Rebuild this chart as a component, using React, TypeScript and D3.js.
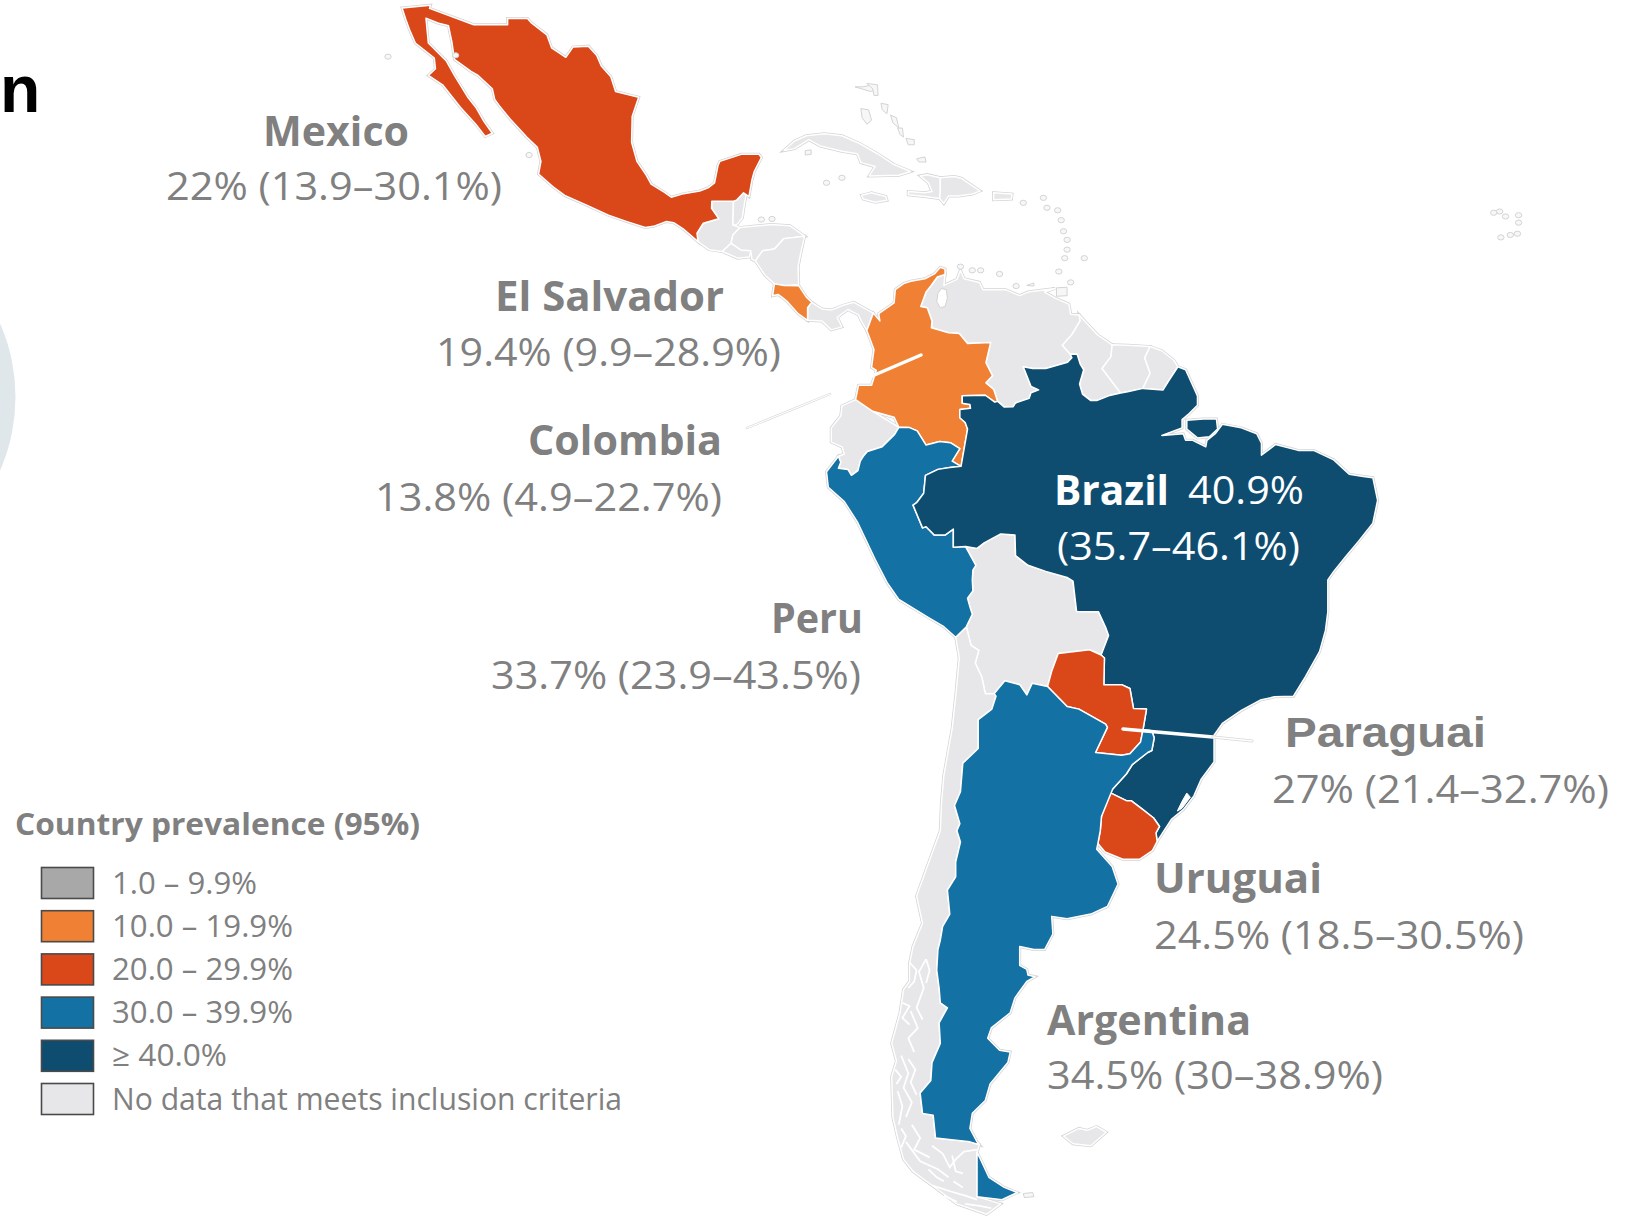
import React, { useMemo } from 'react';
import * as d3 from 'd3';

type LonLat = [number, number];

// ---- values ----
const labelNames = ['Mexico', 'El Salvador', 'Colombia', 'Peru', 'Paraguai', 'Uruguai', 'Argentina'];
const labelRanges = ['22% (13.9–30.1%)', '19.4% (9.9–28.9%)', '13.8% (4.9–22.7%)', '33.7% (23.9–43.5%)', '27% (21.4–32.7%)', '24.5% (18.5–30.5%)', '34.5% (30–38.9%)'];

const legendTitle = 'Country prevalence (95%)';
const legendLabels = ['1.0 – 9.9%', '10.0 – 19.9%', '20.0 – 29.9%', '30.0 – 39.9%', '≥ 40.0%', 'No data that meets inclusion criteria'];
const legendColors = ['#a8a8a8', '#f08033', '#da481a', '#1471a3', '#0e4d70', '#e7e6e8'];
const legendWidths = [145, 181, 181, 181, 115, 510];

// prevalence per shape, the orange shape in Central America carries the El Salvador figure in the source
const prevalence: Record<string, number> = {
  mexico: 22, costaRica: 19.4, colombia: 13.8, peru: 33.7, brazil: 40.9, paraguay: 27, uruguay: 24.5, argentina: 34.5,
};

// shared borders, lon/lat
const colVen: LonLat[] = [[-71.3, 11.85], [-71.95, 11.65], [-72.5, 10.9], [-72.9, 10.4], [-73.35, 9.2], [-72.8, 9.1], [-72.4, 8], [-72.45, 7.42], [-71, 7], [-70.1, 6.95], [-69.4, 6.1], [-67.45, 6.2], [-67.85, 4.5], [-67.3, 3.4], [-67.85, 2.8], [-67.2, 2.25], [-66.87, 1.25]];
const colBra: LonLat[] = [[-66.87, 1.25], [-67.1, 1.17], [-67.9, 1.75], [-69.85, 1.7], [-69.85, 1.07], [-69.2, 0.98], [-69.15, 0.65], [-70.05, 0.55], [-70.05, -0.15], [-69.6, -0.55], [-69.4, -1.1], [-69.95, -4.24]];
const colPer: LonLat[] = [[-69.95, -4.24], [-70.7, -3.8], [-70.05, -2.75], [-70.85, -2.25], [-71.75, -2.15], [-72.9, -2.45], [-73.65, -1.26], [-74.3, -0.98], [-75.2, -0.95]];
const colEcu: LonLat[] = [[-75.2, -0.95], [-75.6, -0.1], [-77.4, 0.4], [-78.85, 1.38]];
const venBra: LonLat[] = [[-66.87, 1.25], [-66.3, 0.75], [-65.55, 0.79], [-65.35, 1.1], [-64.2, 1.49], [-64.05, 1.95], [-63.4, 2.2], [-64.05, 2.5], [-64.7, 4.15], [-63.9, 4], [-62.8, 4], [-60.96, 4.53], [-60.6, 4.92], [-60.73, 5.2]];
const guyBra: LonLat[] = [[-60.73, 5.2], [-60.15, 5.2], [-59.9, 4.4], [-59.6, 3.9], [-59.95, 2.7], [-59.7, 1.85], [-59, 1.3], [-58.5, 1.3], [-57.5, 1.7], [-56.48, 1.94]];
const surBra: LonLat[] = [[-56.48, 1.94], [-55.9, 2.05], [-54.6, 2.33]];
const fguBra: LonLat[] = [[-54.6, 2.33], [-52.9, 2.2], [-52.4, 3], [-51.65, 4.15]];
const braUry: LonLat[] = [[-57.6, -30.18], [-56, -30.85], [-55.6, -30.85], [-54.6, -31.5], [-53.7, -32.1], [-53.2, -32.7], [-53.5, -33.15], [-53.4, -33.75]];
const braArg: LonLat[] = [[-57.6, -30.18], [-57.15, -30], [-56, -28.9], [-55.5, -28.2], [-54.2, -27.3], [-53.85, -27.15], [-53.65, -26.2], [-53.85, -25.65], [-54.6, -25.6]];
const braPry: LonLat[] = [[-54.6, -25.6], [-54.3, -24], [-55.4, -23.95], [-55.7, -22.4], [-56.4, -22.1], [-57.9, -22.1], [-57.85, -20], [-58.13, -19.76]];
const braBol: LonLat[] = [[-58.13, -19.76], [-57.5, -18.2], [-57.75, -17.55], [-58.35, -16.3], [-60.2, -16.27], [-60.5, -13.8], [-61, -13.5], [-62.8, -13], [-64.3, -12.5], [-65.35, -11.7], [-65.4, -10], [-66.6, -9.9], [-68, -10.65], [-68.6, -11.1], [-69.57, -10.95]];
const braPer: LonLat[] = [[-69.57, -10.95], [-70.6, -11], [-70.6, -9.5], [-71.3, -10], [-72.2, -10], [-72.9, -9.3], [-73.2, -9.4], [-74, -7.5], [-73.7, -7.3], [-73.1, -6.5], [-72.95, -5], [-71.9, -4.5], [-70.9, -4.35], [-69.95, -4.24]];
const perBol: LonLat[] = [[-69.57, -10.95], [-68.7, -12.5], [-68.95, -12.9], [-69, -13.7], [-68.95, -14.6], [-69.4, -15.2], [-69.2, -15.9], [-69, -16.5], [-69.5, -17.5]];
const perEcu: LonLat[] = [[-75.2, -0.95], [-75.55, -1.55], [-76.6, -2.6], [-77.85, -3], [-78.2, -3.4], [-78.45, -3.8], [-78.65, -4.6], [-79.2, -5], [-79.5, -4.5], [-80.3, -4.4], [-80.1, -3.9], [-80.3, -3.4]];
const bolChl: LonLat[] = [[-69.5, -17.5], [-69.1, -19], [-68.45, -19.4], [-68.75, -20.4], [-68.5, -20.9], [-68.2, -21.5], [-67.9, -22.8], [-67.15, -22.8]];
const bolArg: LonLat[] = [[-67.15, -22.8], [-66.25, -21.8], [-65, -22.1], [-64.4, -22.9], [-63.95, -22], [-62.65, -22.25]];
const bolPry: LonLat[] = [[-62.65, -22.25], [-62.3, -21.05], [-61.75, -19.65], [-59.1, -19.35], [-58.13, -19.76]];
const argPry: LonLat[] = [[-62.65, -22.25], [-61, -23.8], [-60, -24], [-57.75, -25.15], [-57.6, -25.4], [-58.6, -27.3], [-56.4, -27.5], [-55.7, -27.4], [-54.8, -26.5], [-54.6, -25.6]];
const argUry: LonLat[] = [[-57.6, -30.18], [-58.1, -32], [-58.2, -33], [-58.4, -33.9]];
const argChl: LonLat[] = [[-68.4, -52.25], [-69.2, -52.1], [-72.1, -51.9], [-72.3, -50.7], [-73.2, -50.6], [-73.4, -49.5], [-72.5, -48.8], [-72.4, -47.8], [-71.7, -46.7], [-71.8, -45.5], [-71.1, -44.6], [-71.7, -44.3], [-71.8, -43.4], [-72, -42.3], [-71.9, -41], [-71.7, -40.4], [-71.5, -39.5], [-70.9, -38.7], [-71.1, -37.1], [-70.4, -36.2], [-70.4, -35.2], [-70, -33.8], [-70.3, -33], [-70.05, -32.5], [-70.5, -31.2], [-70, -30.2], [-69.8, -28.1], [-68.5, -27], [-68.5, -26.5], [-68.5, -24.8], [-67.35, -24], [-67, -23], [-67.15, -22.8]];
const rev = (a: LonLat[]) => [...a].reverse();

const mexico: LonLat[] = [[-117.12, 32.53], [-114.72, 32.72], [-114.8, 32.5], [-111.07, 31.33], [-108.21, 31.33], [-108.21, 31.78], [-106.53, 31.78], [-106.2, 31.46], [-104.9, 30.6], [-104.5, 29.65], [-103.3, 28.95], [-102.7, 29.7], [-101.4, 29.77], [-100.7, 29.1], [-100.3, 28.3], [-99.5, 27.5], [-99.1, 26.4], [-97.15, 25.96], [-97.7, 24.5], [-97.75, 22.5], [-97.3, 21], [-96.5, 19.9], [-96.1, 19.2], [-95, 18.55], [-94.4, 18.15], [-93.5, 18.4], [-92, 18.65], [-91.3, 18.9], [-90.75, 19.3], [-90.45, 20.7], [-90.3, 21], [-88.5, 21.55], [-87, 21.55], [-86.8, 21.3], [-87.4, 20.2], [-87.6, 19.5], [-87.85, 18.2], [-88.3, 18.5], [-88.9, 17.9], [-89.15, 17.82], [-90.98, 17.82], [-91, 17.25], [-90.4, 16.42], [-91.7, 16.05], [-92.23, 15.25], [-92.15, 14.55], [-93.4, 15.6], [-94.2, 16.1], [-94.8, 16.2], [-95.9, 15.8], [-96.6, 15.7], [-98.2, 16.2], [-99.7, 16.7], [-101.5, 17.5], [-103.4, 18.3], [-104.4, 19], [-105.6, 20], [-105.4, 21], [-105.7, 22.1], [-106.6, 22.9], [-108, 24.3], [-108.9, 25.3], [-109.3, 25.8], [-109.5, 26.6], [-110.7, 27.6], [-111.3, 27.9], [-112.7, 28.8], [-112.9, 30], [-113.2, 31.25], [-114.1, 31.45], [-115.1, 31.8], [-114.9, 30], [-113.4, 28.7], [-112.7, 27.6], [-111.6, 26], [-110.9, 25.2], [-110.2, 24.1], [-109.5, 23.2], [-110.1, 22.95], [-110.9, 23.9], [-112.2, 25.2], [-112.9, 26], [-113.7, 26.9], [-114.9, 27.6], [-114.3, 28.1], [-114.4, 28.9], [-116, 30], [-116.5, 31], [-116.8, 31.7]];
const guatemala: LonLat[] = [[-92.15, 14.55], [-92.23, 15.25], [-91.7, 16.05], [-90.4, 16.42], [-91, 17.25], [-90.98, 17.82], [-89.15, 17.82], [-89.2, 15.9], [-88.6, 15.7], [-89.2, 15.1], [-89.35, 14.42], [-90.1, 13.75], [-91.2, 13.9]];
const belize: LonLat[] = [[-89.15, 17.82], [-88.9, 17.9], [-88.3, 18.5], [-88.1, 18.3], [-88.3, 17.2], [-88.4, 16.5], [-88.9, 15.9], [-89.2, 15.9]];
const honduras: LonLat[] = [[-89.35, 14.42], [-89.2, 15.1], [-88.6, 15.7], [-87.5, 15.8], [-86, 15.95], [-84.4, 15.85], [-83.15, 15], [-84.9, 14.8], [-85.7, 13.95], [-86.7, 13.8], [-87.3, 12.98], [-87.6, 13.1], [-87.7, 13.8], [-88.5, 13.85]];
const elSalvador: LonLat[] = [[-89.35, 14.42], [-88.5, 13.85], [-87.7, 13.8], [-87.8, 13.3], [-88.8, 13.2], [-90.1, 13.75]];
const nicaragua: LonLat[] = [[-83.15, 15], [-83.5, 13.5], [-83.7, 12.5], [-83.65, 11], [-84.9, 10.95], [-85.7, 11.08], [-86.5, 11.8], [-87.3, 12.98], [-86.7, 13.8], [-85.7, 13.95], [-84.9, 14.8]];
const costaRica: LonLat[] = [[-85.7, 11.08], [-84.9, 10.95], [-83.65, 10.93], [-83, 9.98], [-82.55, 9.55], [-82.9, 9.1], [-82.9, 8.05], [-83.7, 8.6], [-84.6, 9.6], [-85.1, 10], [-85.4, 10.2], [-85.85, 10.1]];
const panama: LonLat[] = [[-82.55, 9.55], [-81.7, 9], [-80.9, 8.9], [-79.9, 9.3], [-79, 9.55], [-77.35, 8.65], [-77.9, 7.2], [-78.4, 8.05], [-78.6, 8.5], [-79.5, 8.95], [-80.4, 8.3], [-80, 7.5], [-80.9, 7.25], [-81.7, 8], [-82.9, 8.05], [-82.9, 9.1]];
const colombia: LonLat[] = [[-77.35, 8.65], [-76.8, 8], [-76.9, 8.6], [-75.6, 9.5], [-75.5, 10.6], [-74.8, 11.1], [-74.2, 11.3], [-73, 11.5], [-72.2, 11.9], [-71.7, 12.45], [-71.3, 12.3], [...colVen[0]] as LonLat, ...colVen.slice(1), ...colBra.slice(1), ...colPer.slice(1), ...colEcu.slice(1), [-78.6, 2.6], [-77.5, 2.6], [-77.1, 3.85], [-77.5, 4.1], [-77.3, 5.6], [-77.9, 7.2]];
const venezuela: LonLat[] = [...rev(colVen), [-71.4, 10.95], [-70.3, 11.45], [-70, 12.2], [-69.7, 11.5], [-68.4, 11.2], [-68.1, 10.6], [-66.2, 10.6], [-65, 10.1], [-64.3, 10.4], [-62, 10.7], [-62.9, 10.4], [-62, 9.9], [-60.85, 9.4], [-60.7, 8.55], [-59.98, 8.5], [-59.9, 8], [-60.6, 6.85], [-61.4, 5.95], ...rev(venBra).slice(0, -1)];
const guyana: LonLat[] = [[-59.98, 8.5], [-58.45, 6.85], [-57.2, 6], [-57.3, 5], [-58.05, 4], [-56.48, 1.94], ...rev(guyBra).slice(1), [-61.4, 5.95], [-60.6, 6.85], [-59.9, 8]];
const suriname: LonLat[] = [[-57.2, 6], [-55.9, 5.95], [-54, 5.85], [-54.45, 4.9], [-54, 3.6], ...rev(surBra), [-58.05, 4], [-57.3, 5]];
const frGuiana: LonLat[] = [[-54, 5.85], [-53, 5.5], [-52, 4.7], ...rev(fguBra), [-54, 3.6], [-54.45, 4.9]];
const ecuador: LonLat[] = [[-78.85, 1.38], [-80, 0.85], [-80.1, 0], [-80.9, -1], [-80.9, -2.2], [-80, -2.6], [-79.8, -3.2], ...rev(perEcu), ...colEcu.slice(1, -1).reverse()];
const peru: LonLat[] = [[-80.3, -3.4], [-81.3, -4.7], [-81.15, -6], [-79.8, -7.2], [-78.7, -8.9], [-77.2, -12], [-76.2, -13.9], [-75.2, -15.3], [-72.8, -16.7], [-71.4, -17.5], [-70.4, -18.35], ...rev(perBol), ...braPer.slice(1), ...colPer.slice(1), ...perEcu.slice(1, -1)];
const brazil: LonLat[] = [[-51.65, 4.15], [-51, 3.9], [-50, 1.7], [-50, 0.9], [-50.7, 0.2], [-51.3, -0.3], [-51.3, -1], [-53, -1.65], [-51.2, -1.5], [-51, -2.05], [-50.4, -2.05], [-49.3, -2.6], [-49.2, -2.05], [-48.5, -1.5], [-47.9, -0.7], [-46.3, -1], [-45, -1.5], [-44.6, -2.3], [-44.6, -3.3], [-43.4, -2.4], [-41.5, -2.9], [-40.2, -2.9], [-38.5, -3.7], [-37.2, -4.9], [-36, -5.1], [-35.2, -5.2], [-34.8, -7.1], [-35.2, -9], [-36.4, -10.5], [-37.5, -11.8], [-38.5, -13], [-39, -13.7], [-39, -16.3], [-39.2, -17.8], [-39.7, -19.5], [-40.9, -21.5], [-41.9, -23], [-43.5, -23.05], [-44.7, -23.3], [-46.3, -24.1], [-47.9, -25.1], [-48.6, -26], [-48.6, -28], [-49.7, -29.3], [-50.3, -30.5], [-51.2, -31.5], [-52.2, -32.2], [-52.9, -33.1], ...rev(braUry), ...braArg.slice(1), ...braPry.slice(1), ...braBol.slice(1), ...braPer.slice(1), ...rev(colBra).slice(1), ...venBra.slice(1), ...guyBra.slice(1), ...surBra.slice(1), ...fguBra.slice(1, -1)];
const marajo: LonLat[] = [[-50.9, -0.35], [-49.5, -0.25], [-48.4, -0.25], [-48.3, -1.1], [-49, -1.75], [-50, -1.85], [-50.9, -1.1]];
const bolivia: LonLat[] = [...rev(braBol), ...bolPry.slice().reverse().slice(1), ...rev(bolArg).slice(1), ...rev(bolChl).slice(1), ...rev(perBol).slice(1, -1)];
const paraguay: LonLat[] = [...rev(braPry), ...rev(argPry).slice(1), ...bolPry.slice(1, -1)];
const uruguay: LonLat[] = [...braUry, [-53.8, -34.4], [-54.9, -35], [-56.3, -35], [-57.8, -34.5], ...rev(argUry).slice(0, -1)];
const argentina: LonLat[] = [...argPry, ...rev(braArg).slice(0, -1), ...argUry.slice(1), [-58.5, -34.3], [-57.2, -35.5], [-56.7, -36.7], [-57.6, -38.2], [-59, -38.7], [-61, -39], [-62.3, -38.85], [-62.2, -40], [-62.9, -41], [-63.8, -41], [-65, -40.8], [-65, -42], [-64.4, -42.25], [-64.3, -42.6], [-63.7, -42.7], [-64.4, -43], [-65.4, -44], [-65.8, -44.9], [-67.4, -45.8], [-67.7, -46.4], [-66.7, -47.1], [-65.8, -47.2], [-66, -47.8], [-67.5, -49], [-67.9, -49.9], [-69, -50.6], [-69.2, -51.4], [-68.6, -52.1], ...argChl, ...bolArg.slice(1)];
const tierraAr: LonLat[] = [[-68.6, -52.65], [-68.3, -53], [-67.6, -53.9], [-66.3, -54.4], [-65.2, -54.65], [-66.5, -55], [-68.6, -54.85]];
const chile: LonLat[] = [[-70.4, -18.35], [-70.1, -20], [-70.4, -23], [-70.7, -25.5], [-71.4, -29], [-71.6, -31], [-71.7, -33], [-72.8, -35.5], [-73.7, -37.5], [-73.2, -39.3], [-74, -40.8], [-74.3, -41.9], [-74.3, -43], [-74.8, -43.5], [-75.1, -44.9], [-75.8, -46.7], [-75.4, -47.7], [-75.8, -48.6], [-75.7, -50.8], [-75.3, -51.9], [-74.8, -53], [-74, -53.6], [-71.7, -54.6], [-70.3, -55.2], [-67.8, -55.7], [-66.6, -55.2], [-68.6, -54.85], [-68.6, -52.65], ...argChl, ...rev(bolChl).slice(1), [-69.5, -17.5]];
const cuba: LonLat[] = [[-84.9, 21.85], [-84, 22.6], [-83, 23], [-81.5, 23.15], [-80, 23], [-78.5, 22.4], [-77, 21.6], [-75.6, 20.75], [-74.2, 20.2], [-75.2, 19.9], [-77.7, 19.85], [-77.2, 20.6], [-78.4, 20.9], [-78.7, 21.6], [-80, 21.8], [-81.8, 22.2], [-82.8, 22.7], [-84, 22]];
const haiti: LonLat[] = [[-74.4, 18.35], [-73, 18.2], [-71.75, 18.05], [-71.7, 18.6], [-71.7, 19.7], [-72.8, 19.95], [-73.4, 19.85], [-72.7, 19.3], [-72.4, 18.6], [-73, 18.5], [-74.4, 18.6]];
const domRep: LonLat[] = [[-71.7, 19.7], [-70.5, 19.8], [-69.9, 19.65], [-69.2, 19.2], [-68.35, 18.65], [-69, 18.4], [-70.2, 18.25], [-71, 18.25], [-71.4, 17.65], [-71.75, 18.05], [-71.7, 18.6]];
const jamaica: LonLat[] = [[-78.35, 18.3], [-77.5, 18.5], [-76.3, 18.2], [-76.2, 17.9], [-77.2, 17.75], [-78.2, 18]];
const puertoRico: LonLat[] = [[-67.2, 18.5], [-65.65, 18.4], [-65.7, 18], [-67.2, 17.95]];
const falklands: LonLat[] = [[-61.3, -51.8], [-60, -51.4], [-59.3, -51.5], [-58.5, -51.3], [-57.7, -51.6], [-59, -52.3], [-60.5, -52.2]];
const lakeMaracaibo: LonLat[] = [[-71.6, 10.7], [-71.2, 10.6], [-71.1, 9.9], [-71.3, 9.2], [-71.7, 9.1], [-72, 9.6], [-71.9, 10.3]];
const lagoaPatos: LonLat[] = [[-50.9, -30.3], [-50.6, -30.6], [-51.3, -31.4], [-51.7, -31.6], [-51.3, -30.9]];
const islaEstados: LonLat[] = [[-64.7, -54.7], [-63.9, -54.65], [-63.8, -54.85], [-64.6, -54.9]];

const shapes: { id: string; ring: LonLat[] }[] = [
  { id: 'guatemala', ring: guatemala }, { id: 'belize', ring: belize }, { id: 'honduras', ring: honduras },
  { id: 'elSalvador', ring: elSalvador }, { id: 'nicaragua', ring: nicaragua }, { id: 'panama', ring: panama },
  { id: 'venezuela', ring: venezuela }, { id: 'guyana', ring: guyana }, { id: 'suriname', ring: suriname },
  { id: 'frGuiana', ring: frGuiana }, { id: 'ecuador', ring: ecuador }, { id: 'bolivia', ring: bolivia },
  { id: 'chile', ring: chile }, { id: 'cuba', ring: cuba }, { id: 'haiti', ring: haiti }, { id: 'domRep', ring: domRep },
  { id: 'jamaica', ring: jamaica }, { id: 'puertoRico', ring: puertoRico }, { id: 'falklands', ring: falklands },
  { id: 'mexico', ring: mexico }, { id: 'costaRica', ring: costaRica }, { id: 'colombia', ring: colombia },
  { id: 'peru', ring: peru }, { id: 'brazil', ring: brazil }, { id: 'brazil', ring: marajo },
  { id: 'paraguay', ring: paraguay }, { id: 'uruguay', ring: uruguay }, { id: 'argentina', ring: argentina },
  { id: 'argentina', ring: tierraAr },
];

// Bahamas and other long thin islands, only an outline in the source
const thinIslands: LonLat[][] = [
  [[-78.9, 26.75], [-78.2, 26.75], [-77.4, 26.9], [-77.1, 26.5], [-77.6, 26.4]],
  [[-77.9, 27], [-77, 26.9], [-76.95, 26.1], [-77.3, 26.1], [-77.4, 26.6]],
  [[-78.4, 25.1], [-77.75, 25], [-77.5, 24.2], [-77.9, 23.9], [-78.3, 24.4]],
  [[-76.7, 25.5], [-76.1, 25.4], [-76.2, 24.7], [-76.6, 25]],
  [[-75.9, 24.6], [-75.4, 24.4], [-75.2, 23.6], [-75.7, 24]],
  [[-75.3, 23.6], [-74.9, 23.6], [-74.8, 22.9], [-75.1, 23.1]],
  [[-74.6, 22.8], [-73.9, 22.7], [-73.9, 22.3], [-74.4, 22.3]],
  [[-73.7, 21.2], [-73, 21.35], [-72.9, 20.95], [-73.5, 20.95]],
  [[-83.1, 21.85], [-82.6, 21.9], [-82.6, 21.55], [-83.1, 21.5]],
  [[-64, 11.1], [-63.8, 11.15], [-63.8, 10.9], [-64.4, 10.95]],
  [[-61.9, 10.75], [-61, 10.8], [-61, 10.1], [-61.9, 10.05]],
];

// small islands, lon, lat
const islands: LonLat[] = [[-81.3, 19.3], [-80, 19.7], [-64.7, 17.7], [-63, 18.1], [-62.7, 17.3], [-61.8, 17.1], [-61.5, 16.3], [-61.3, 15.4], [-61, 14.7], [-61, 13.9], [-61.2, 13.2], [-59.55, 13.2], [-61.7, 12.1], [-60.7, 11.2], [-70, 12.5], [-69, 12.2], [-68.3, 12.2], [-65.3, 10.9], [-66.7, 11.9], [-85.9, 16.4], [-86.8, 16.35], [-118.3, 29], [-112.6, 29.1], [-106.4, 21.5], [-24.5, 17], [-25, 16.9], [-24, 16.6], [-22.9, 16.7], [-22.9, 16.1], [-23, 15.2], [-23.6, 15.1], [-24.4, 14.9]];

// fjord channels on the Chilean coast, white strokes
const fjords: LonLat[][] = [
  [[-72.9, -41.6], [-73.5, -42.4], [-73.1, -43.4], [-73.7, -44.6], [-73.2, -45.3]],
  [[-74.3, -41.8], [-73.7, -42.3], [-73.9, -43], [-74.4, -43.4]],
  [[-72.9, -41.6], [-72.6, -42.3], [-72.9, -43.1]],
  [[-74.2, -44.8], [-73.6, -45.8], [-74.4, -46.4], [-73.9, -47.2]],
  [[-74.9, -44.3], [-74.3, -44.5], [-74.9, -45.2], [-74.3, -45.6]],
  [[-75, -47.4], [-74.4, -48.4], [-74.8, -49.2], [-74.1, -50], [-74.6, -50.8]],
  [[-75.3, -49.4], [-74.9, -50.2], [-75.2, -51.2]],
  [[-74.4, -47.6], [-73.8, -48.2], [-74.2, -48.9], [-73.7, -49.6]],
  [[-75.5, -48.2], [-75, -48.6], [-75.4, -49]],
  [[-74.1, -51.2], [-73.4, -51.9], [-73.9, -52.5], [-72.6, -52.9]],
  [[-75, -51.4], [-74.6, -51.8], [-75, -52.4]],
  [[-74.6, -52.1], [-73.4, -53.1], [-71.9, -53.5], [-71, -53.9]],
  [[-72.4, -52.3], [-71.5, -52.7], [-70.9, -53.4], [-70.4, -53], [-69.7, -52.6], [-68.6, -52.5]],
  [[-72.7, -53.5], [-72, -53.9], [-71.4, -54.1]],
  [[-72.4, -54.3], [-70.8, -54.6], [-69.6, -54.8], [-68.6, -55]],
  [[-70.6, -54.1], [-69.8, -54.4]],
  [[-71.4, -54.8], [-70.3, -55.1]],
  [[-69.6, -55.2], [-68.4, -55.3], [-67.4, -55.4]],
  [[-70.7, -52.8], [-70.4, -53.6], [-69.8, -53.7]],
];

const colorOf = d3.scaleThreshold<number, string>().domain([10, 20, 30, 40]).range(legendColors.slice(0, 5));
const noData = legendColors[5];

// layout of the callouts: x start, width, baseline for name then for range
const labelLayout = [
  { x: 263, w: 146, y: 146, x2: 166, w2: 336, y2: 200 },
  { x: 495, w: 229, y: 311, x2: 436, w2: 345, y2: 366 },
  { x: 528, w: 194, y: 455, x2: 375, w2: 347, y2: 511 },
  { x: 771, w: 92, y: 633, x2: 491, w2: 370, y2: 689 },
  { x: 1285, w: 201, y: 747, x2: 1272, w2: 337, y2: 803 },
  { x: 1154, w: 168, y: 893, x2: 1154, w2: 370, y2: 949 },
  { x: 1047, w: 204, y: 1035, x2: 1047, w2: 336, y2: 1089 },
];
const grey = '#808080';
const textFont = '"Open Sans", sans-serif';

export default function App() {
  const projection = useMemo(() => d3.geoMercator().scale(679).translate([1790, 416]), []);
  const closed = useMemo(() => d3.line().curve(d3.curveLinearClosed), []);
  const open = useMemo(() => d3.line(), []);
  const ring = (r: LonLat[]) => closed(r.map(p => projection(p) as [number, number])) as string;
  const strand = (r: LonLat[]) => open(r.map(p => projection(p) as [number, number])) as string;
  const fillOf = (id: string) => (id in prevalence ? colorOf(prevalence[id]) : noData);

  return (
    <svg width={1631} height={1216} style={{ position: 'absolute', left: 0, top: 0, display: 'block', background: '#fff' }}>
      <circle cx={-166.5} cy={397} r={182} fill="#e0e7ea" />
      <text x={0} y={112} fontFamily='"Liberation Sans", Arial, sans-serif' fontWeight={700} fontSize={66} fill="#000">n</text>

      {/* coast halo */}
      <g fill="none" stroke="#d4d4d4" strokeWidth={3}>
        {shapes.map((s, i) => <path key={i} d={ring(s.ring)} />)}
      </g>
      <g stroke="#fff" strokeWidth={1.5} strokeLinejoin="round">
        {shapes.map((s, i) => <path key={i} d={ring(s.ring)} fill={fillOf(s.id)} />)}
        <path d={ring(lakeMaracaibo)} fill="#fff" stroke="#d4d4d4" strokeWidth={1} />
        <path d={ring(lagoaPatos)} fill="#fff" stroke="#fff" strokeWidth={1} />
      </g>
      <g fill="none" stroke="#fff" strokeWidth={1.8}>
        {fjords.map((f, i) => <path key={i} d={strand(f)} />)}
      </g>
      <g fill="#f7f7f8" stroke="#cfcfcf" strokeWidth={0.9}>
        {thinIslands.map((r, i) => <path key={i} d={ring(r)} />)}
        <path d={ring(islaEstados)} />
        {islands.map((p, i) => {
          const [x, y] = projection(p) as [number, number];
          return <ellipse key={i} cx={x} cy={y} rx={3.2} ry={2.6} />;
        })}
      </g>

      {/* leader lines */}
      <g fill="none" strokeLinecap="round">
        <line x1={921} y1={355} x2={800} y2={407} stroke="#fff" strokeWidth={3.5} />
        <line x1={830} y1={394} x2={747} y2={428} stroke="#d8d8d8" strokeWidth={2.4} />
        <line x1={830} y1={394} x2={747} y2={428} stroke="#fff" strokeWidth={1.2} />
        <line x1={1123} y1={729} x2={1213} y2={737} stroke="#fff" strokeWidth={3.5} />
        <line x1={1213} y1={737} x2={1252} y2={741} stroke="#d8d8d8" strokeWidth={3} />
        <line x1={1213} y1={737} x2={1252} y2={741} stroke="#fff" strokeWidth={1.6} />
      </g>

      {/* callouts */}
      <g fontFamily={textFont} fill={grey}>
        {labelNames.map((name, i) => {
          const l = labelLayout[i];
          const arial = name === 'Paraguai';
          return (
            <g key={name}>
              <text x={l.x} y={l.y} fontWeight={700} fontSize={arial ? 42 : 41} textLength={l.w} lengthAdjust="spacingAndGlyphs"
                fontFamily={arial ? '"Liberation Sans", sans-serif' : undefined}>{name}</text>
              <text x={l.x2} y={l.y2} fontSize={39} textLength={l.w2} lengthAdjust="spacingAndGlyphs">{labelRanges[i]}</text>
            </g>
          );
        })}
      </g>
      <g fontFamily={textFont} fill="#fff">
        <text x={1054} y={505} fontWeight={700} fontSize={41} textLength={115} lengthAdjust="spacingAndGlyphs">Brazil</text>
        <text x={1188} y={504} fontSize={39} textLength={116} lengthAdjust="spacingAndGlyphs">40.9%</text>
        <text x={1057} y={560} fontSize={39} textLength={243} lengthAdjust="spacingAndGlyphs">(35.7–46.1%)</text>
      </g>

      {/* legend */}
      <text x={15} y={835} fontFamily={textFont} fontWeight={700} fontSize={31} fill={grey} textLength={405} lengthAdjust="spacingAndGlyphs">{legendTitle}</text>
      {legendLabels.map((label, i) => {
        const top = d3.scaleLinear().domain([0, 5]).range([867.5, 1083.5])(i);
        return (
          <g key={label}>
            <rect x={41.5} y={top} width={52} height={31} fill={legendColors[i]} stroke="#4a4a4a" strokeWidth={1.6} />
            <text x={112} y={top + 26} fontFamily={textFont} fontSize={31} fill={grey} textLength={legendWidths[i]} lengthAdjust="spacingAndGlyphs">{label}</text>
          </g>
        );
      })}
    </svg>
  );
}
